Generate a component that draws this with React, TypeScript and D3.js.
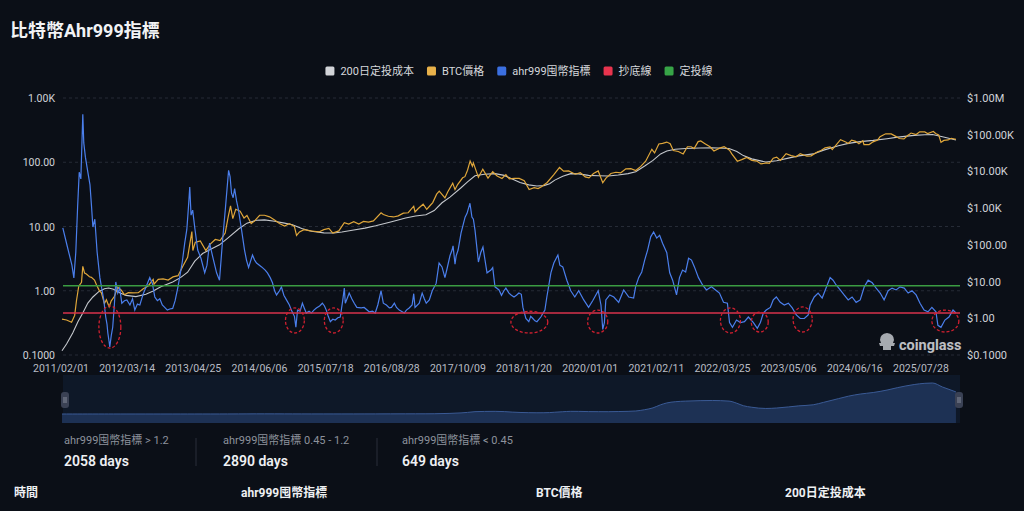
import React from "react";
import * as d3 from "d3";

// ---------- data ----------
const titleText = "比特幣Ahr999指標";
const dateStart = "2011-02-01";
const dateEnd = "2026-03-19";

const xTickLabels = [
  "2011/02/01", "2012/03/14", "2013/04/25", "2014/06/06", "2015/07/18",
  "2016/08/28", "2017/10/09", "2018/11/20", "2020/01/01", "2021/02/11",
  "2022/03/25", "2023/05/06", "2024/06/16", "2025/07/28",
];
const leftTicks = [0.1, 1, 10, 100, 1000];
const leftTickLabels = ["0.1000", "1.00", "10.00", "100.00", "1.00K"];
const rightTicks = [0.1, 1, 10, 100, 1000, 10000, 100000, 1000000];
const rightTickLabels = ["$0.1000", "$1.00", "$10.00", "$100.00", "$1.00K", "$10.00K", "$100.00K", "$1.00M"];

const legendNames = ["200日定投成本", "BTC價格", "ahr999囤幣指標", "抄底線", "定投線"];
const legendColors = ["#d2d4d8", "#e8b14a", "#3b6fe0", "#e8344e", "#37a447"];

const bottomLineValue = 0.45;
const dcaLineValue = 1.2;

const ahr999: [string, number][] = [
  ["2011-02-06", 9.5], ["2011-03-03", 5.2], ["2011-04-03", 2.5], ["2011-04-15", 1.58],
  ["2011-04-27", 4], ["2011-05-08", 20], ["2011-05-18", 70], ["2011-05-28", 55],
  ["2011-06-09", 560], ["2011-06-15", 200], ["2011-06-25", 120], ["2011-07-10", 70],
  ["2011-07-23", 45], ["2011-08-02", 20], ["2011-08-10", 9.8], ["2011-08-22", 13],
  ["2011-09-05", 4], ["2011-09-22", 1.6], ["2011-10-06", 1.0], ["2011-10-16", 0.72],
  ["2011-10-28", 0.39], ["2011-11-05", 0.3], ["2011-11-10", 0.22], ["2011-11-18", 0.16],
  ["2011-11-22", 0.133], ["2011-12-01", 0.2], ["2011-12-10", 0.27], ["2011-12-20", 0.6],
  ["2011-12-29", 1.37], ["2012-01-10", 0.92], ["2012-01-22", 1.1], ["2012-02-04", 0.64],
  ["2012-02-20", 0.7], ["2012-03-06", 0.72], ["2012-03-25", 0.6], ["2012-04-10", 0.75],
  ["2012-04-24", 0.5], ["2012-05-10", 0.62], ["2012-05-25", 0.6], ["2012-06-15", 0.9],
  ["2012-07-05", 1.2], ["2012-07-25", 1.6], ["2012-08-10", 1.3], ["2012-08-25", 0.8],
  ["2012-09-10", 0.7], ["2012-09-25", 0.75], ["2012-10-10", 0.6], ["2012-10-25", 0.55],
  ["2012-11-10", 0.5], ["2012-11-25", 0.52], ["2012-12-13", 0.53], ["2012-12-28", 0.7],
  ["2013-01-13", 1.1], ["2013-01-28", 1.8], ["2013-02-10", 2.8], ["2013-02-25", 5.5],
  ["2013-03-10", 9], ["2013-03-20", 20], ["2013-03-28", 41], ["2013-04-05", 15],
  ["2013-04-15", 18], ["2013-04-28", 9.5], ["2013-05-16", 4.3], ["2013-06-05", 3.2],
  ["2013-06-28", 1.9], ["2013-07-12", 2.5], ["2013-07-28", 5.5], ["2013-08-15", 3.5],
  ["2013-09-09", 1.9], ["2013-09-27", 1.46], ["2013-10-16", 6.1], ["2013-11-03", 20],
  ["2013-11-22", 75], ["2013-12-01", 60], ["2013-12-10", 33], ["2013-12-20", 28],
  ["2013-12-29", 39], ["2014-01-10", 25], ["2014-01-22", 18], ["2014-02-10", 8.8],
  ["2014-02-28", 4.3], ["2014-03-12", 3.0], ["2014-03-25", 2.3], ["2014-04-18", 3.6],
  ["2014-05-01", 3.0], ["2014-05-13", 2.7], ["2014-06-13", 2.35], ["2014-07-05", 2.1],
  ["2014-07-19", 1.9], ["2014-08-05", 1.6], ["2014-08-19", 1.33], ["2014-09-01", 1.0],
  ["2014-09-13", 0.86], ["2014-10-01", 1.0], ["2014-10-13", 1.15], ["2014-10-28", 0.85],
  ["2014-11-13", 0.72], ["2014-12-01", 0.6], ["2014-12-13", 0.5], ["2015-01-01", 0.4],
  ["2015-01-10", 0.27], ["2015-01-20", 0.5], ["2015-02-05", 0.48], ["2015-02-19", 0.64],
  ["2015-03-01", 0.55], ["2015-03-15", 0.45], ["2015-04-01", 0.48], ["2015-04-15", 0.45],
  ["2015-05-01", 0.5], ["2015-05-16", 0.54], ["2015-06-05", 0.58], ["2015-06-22", 0.64],
  ["2015-07-05", 0.58], ["2015-07-16", 0.5], ["2015-07-28", 0.4], ["2015-08-10", 0.33],
  ["2015-08-25", 0.36], ["2015-09-09", 0.35], ["2015-09-25", 0.38], ["2015-10-10", 0.39],
  ["2015-10-25", 0.7], ["2015-11-04", 1.1], ["2015-11-10", 0.64], ["2015-11-25", 0.8],
  ["2015-12-04", 0.92], ["2015-12-20", 0.75], ["2016-01-04", 0.64], ["2016-01-20", 0.55],
  ["2016-02-16", 0.54], ["2016-03-05", 0.55], ["2016-04-05", 0.47], ["2016-04-25", 0.48],
  ["2016-05-12", 0.45], ["2016-05-28", 0.6], ["2016-06-17", 1.0], ["2016-07-01", 0.64],
  ["2016-07-20", 0.6], ["2016-08-07", 0.54], ["2016-08-20", 0.55], ["2016-09-07", 0.64],
  ["2016-09-20", 0.55], ["2016-10-07", 0.5], ["2016-10-20", 0.48], ["2016-11-07", 0.45],
  ["2016-11-20", 0.5], ["2016-12-07", 0.54], ["2016-12-25", 0.6], ["2017-01-04", 0.9],
  ["2017-01-12", 0.55], ["2017-02-07", 0.64], ["2017-02-25", 0.92], ["2017-03-10", 0.75],
  ["2017-03-22", 0.64], ["2017-04-10", 0.72], ["2017-04-28", 1.0], ["2017-05-22", 1.3],
  ["2017-06-09", 2.7], ["2017-06-27", 2.35], ["2017-07-15", 1.6], ["2017-07-28", 2.2],
  ["2017-08-15", 3.5], ["2017-08-28", 4.3], ["2017-09-03", 5.0], ["2017-09-15", 2.6],
  ["2017-09-22", 3.5], ["2017-10-04", 4.3], ["2017-10-22", 7.9], ["2017-11-16", 14],
  ["2017-11-28", 16], ["2017-12-16", 23], ["2017-12-28", 14], ["2018-01-06", 13],
  ["2018-01-16", 8.8], ["2018-02-06", 2.8], ["2018-02-20", 3.9], ["2018-03-06", 4.8],
  ["2018-03-31", 1.9], ["2018-04-24", 2.1], ["2018-05-05", 2.3], ["2018-05-19", 1.15],
  ["2018-06-13", 1.03], ["2018-06-28", 0.85], ["2018-07-13", 1.0], ["2018-07-25", 1.1],
  ["2018-08-13", 0.92], ["2018-08-28", 0.85], ["2018-09-13", 0.8], ["2018-09-28", 0.85],
  ["2018-10-13", 0.92], ["2018-10-28", 0.88], ["2018-11-07", 0.55], ["2018-11-25", 0.37],
  ["2018-12-13", 0.33], ["2018-12-25", 0.4], ["2019-01-07", 0.37], ["2019-01-20", 0.34],
  ["2019-02-01", 0.33], ["2019-02-25", 0.39], ["2019-03-22", 0.5], ["2019-04-03", 0.8],
  ["2019-04-28", 1.9], ["2019-05-16", 2.7], ["2019-06-10", 3.6], ["2019-06-22", 2.5],
  ["2019-07-10", 2.35], ["2019-08-04", 1.46], ["2019-08-28", 1.0], ["2019-09-22", 0.8],
  ["2019-10-16", 1.0], ["2019-11-16", 0.72], ["2019-12-16", 0.55], ["2020-01-10", 0.7],
  ["2020-02-13", 1.0], ["2020-03-01", 0.6], ["2020-03-12", 0.25], ["2020-03-22", 0.32],
  ["2020-03-31", 0.72], ["2020-04-24", 0.86], ["2020-05-19", 0.8], ["2020-06-18", 0.66],
  ["2020-07-19", 1.03], ["2020-08-19", 0.8], ["2020-09-18", 0.77], ["2020-09-30", 1.15],
  ["2020-10-19", 1.6], ["2020-11-07", 1.96], ["2020-11-25", 3.0], ["2020-12-13", 4.3],
  ["2021-01-01", 6.9], ["2021-01-19", 8.2], ["2021-02-07", 6.6], ["2021-02-25", 7.3],
  ["2021-03-15", 5.5], ["2021-04-10", 3.9], ["2021-04-28", 1.9], ["2021-05-16", 1.46],
  ["2021-06-09", 0.86], ["2021-06-27", 1.6], ["2021-07-16", 2.1], ["2021-08-04", 1.96],
  ["2021-08-22", 3.2], ["2021-09-09", 3.0], ["2021-09-27", 2.35], ["2021-10-22", 1.6],
  ["2021-11-16", 1.23], ["2021-12-10", 1.03], ["2022-01-10", 1.15], ["2022-02-04", 1.03],
  ["2022-02-28", 0.92], ["2022-03-25", 0.66], ["2022-04-18", 0.64], ["2022-05-01", 0.32],
  ["2022-05-19", 0.27], ["2022-06-13", 0.35], ["2022-07-07", 0.32], ["2022-08-01", 0.33],
  ["2022-08-25", 0.39], ["2022-09-25", 0.32], ["2022-10-19", 0.26], ["2022-11-07", 0.32],
  ["2022-11-25", 0.45], ["2022-12-13", 0.5], ["2023-01-07", 0.55], ["2023-01-25", 0.72],
  ["2023-02-13", 0.8], ["2023-03-09", 0.66], ["2023-04-03", 0.6], ["2023-04-28", 0.64],
  ["2023-05-22", 0.54], ["2023-06-16", 0.42], ["2023-07-10", 0.37], ["2023-08-04", 0.37],
  ["2023-08-28", 0.42], ["2023-09-09", 0.6], ["2023-10-04", 0.8], ["2023-10-28", 0.92],
  ["2023-11-22", 0.77], ["2023-12-16", 1.1], ["2024-01-10", 1.6], ["2024-01-28", 1.46],
  ["2024-02-16", 1.23], ["2024-03-12", 1.03], ["2024-04-05", 0.86], ["2024-04-30", 0.72],
  ["2024-05-24", 0.8], ["2024-06-18", 0.66], ["2024-07-13", 0.72], ["2024-08-07", 1.15],
  ["2024-08-31", 1.46], ["2024-09-25", 1.33], ["2024-10-19", 1.1], ["2024-11-13", 0.92],
  ["2024-12-07", 0.72], ["2025-01-01", 1.0], ["2025-01-25", 1.1], ["2025-02-19", 1.03],
  ["2025-03-15", 1.15], ["2025-04-10", 1.1], ["2025-05-04", 0.92], ["2025-05-28", 1.0],
  ["2025-06-22", 0.86], ["2025-07-16", 0.64], ["2025-08-10", 0.5], ["2025-09-03", 0.47],
  ["2025-09-27", 0.55], ["2025-10-22", 0.47], ["2025-11-03", 0.29], ["2025-11-22", 0.27],
  ["2025-12-16", 0.35], ["2026-01-10", 0.39], ["2026-02-04", 0.5], ["2026-02-22", 0.45],
];

const btcPrice: [string, number][] = [
  ["2011-02-01", 0.95], ["2011-03-01", 0.9], ["2011-04-01", 0.78], ["2011-04-20", 1.2],
  ["2011-05-01", 3.0], ["2011-05-15", 7.5], ["2011-06-01", 9.5], ["2011-06-09", 26],
  ["2011-06-20", 17], ["2011-07-01", 16], ["2011-07-20", 13.5], ["2011-08-01", 13],
  ["2011-08-20", 11], ["2011-09-01", 8.2], ["2011-09-20", 5.5], ["2011-10-01", 5.0],
  ["2011-10-20", 2.5], ["2011-11-01", 3.2], ["2011-11-18", 2.05], ["2011-12-01", 3.0],
  ["2011-12-20", 3.9], ["2012-01-10", 7.0], ["2012-02-01", 5.8], ["2012-02-20", 4.4],
  ["2012-03-15", 5.0], ["2012-04-15", 4.9], ["2012-05-15", 5.0], ["2012-06-15", 6.4],
  ["2012-07-15", 7.6], ["2012-08-15", 11.5], ["2012-08-20", 8.5], ["2012-09-15", 11.5],
  ["2012-10-15", 11.8], ["2012-11-15", 11.0], ["2012-12-15", 13.4], ["2013-01-15", 14.5],
  ["2013-02-15", 27], ["2013-03-15", 46], ["2013-04-10", 230], ["2013-04-16", 70],
  ["2013-05-01", 117], ["2013-06-01", 128], ["2013-07-05", 70], ["2013-08-01", 105],
  ["2013-09-01", 140], ["2013-10-01", 130], ["2013-11-01", 210], ["2013-11-20", 600],
  ["2013-12-04", 1150], ["2013-12-18", 520], ["2014-01-05", 930], ["2014-02-01", 820],
  ["2014-02-25", 540], ["2014-03-15", 630], ["2014-04-10", 380], ["2014-05-01", 450],
  ["2014-06-01", 640], ["2014-07-01", 640], ["2014-08-01", 580], ["2014-09-01", 475],
  ["2014-10-01", 380], ["2014-11-01", 325], ["2014-12-01", 380], ["2015-01-01", 315],
  ["2015-01-14", 180], ["2015-02-01", 225], ["2015-03-01", 260], ["2015-04-01", 245],
  ["2015-05-01", 235], ["2015-06-01", 225], ["2015-07-01", 260], ["2015-08-01", 280],
  ["2015-08-25", 210], ["2015-10-01", 240], ["2015-11-04", 400], ["2015-12-01", 370],
  ["2016-01-01", 430], ["2016-02-01", 370], ["2016-03-01", 435], ["2016-04-01", 415],
  ["2016-05-01", 450], ["2016-06-17", 750], ["2016-07-01", 670], ["2016-08-01", 600],
  ["2016-09-01", 575], ["2016-10-01", 615], ["2016-11-01", 730], ["2016-12-01", 750],
  ["2017-01-04", 1130], ["2017-01-12", 790], ["2017-02-01", 980], ["2017-03-03", 1280],
  ["2017-03-25", 930], ["2017-04-15", 1180], ["2017-05-01", 1420], ["2017-05-25", 2400],
  ["2017-06-10", 2900], ["2017-07-15", 1900], ["2017-08-01", 2750], ["2017-09-01", 4800],
  ["2017-09-15", 3200], ["2017-10-01", 4400], ["2017-11-01", 6700], ["2017-11-15", 7200],
  ["2017-12-01", 10800], ["2017-12-17", 19300], ["2017-12-31", 13800], ["2018-01-06", 17100],
  ["2018-02-06", 6900], ["2018-03-05", 11500], ["2018-04-06", 6600], ["2018-05-05", 9800],
  ["2018-06-01", 7500], ["2018-07-01", 6400], ["2018-07-25", 8200], ["2018-08-15", 6300],
  ["2018-09-15", 6500], ["2018-10-15", 6450], ["2018-11-15", 5600], ["2018-12-15", 3200],
  ["2019-01-15", 3600], ["2019-02-08", 3400], ["2019-03-01", 3850], ["2019-04-05", 5000],
  ["2019-05-15", 8000], ["2019-06-20", 12800], ["2019-07-15", 10200], ["2019-08-15", 10300],
  ["2019-09-25", 8400], ["2019-10-26", 9300], ["2019-11-25", 7100], ["2019-12-18", 6700],
  ["2020-01-15", 8800], ["2020-02-13", 10300], ["2020-03-12", 4900], ["2020-04-01", 6600],
  ["2020-05-01", 8800], ["2020-06-01", 9500], ["2020-07-01", 9200], ["2020-08-01", 11800],
  ["2020-09-01", 11900], ["2020-10-01", 10600], ["2020-11-01", 13700], ["2020-12-01", 19000],
  ["2021-01-08", 40000], ["2021-01-25", 32000], ["2021-02-20", 56000], ["2021-03-15", 58000],
  ["2021-04-10", 63000], ["2021-05-01", 57000], ["2021-05-20", 37000], ["2021-06-20", 35000],
  ["2021-07-20", 30000], ["2021-08-15", 47000], ["2021-09-07", 47000], ["2021-09-25", 42000],
  ["2021-10-20", 65000], ["2021-11-05", 67500], ["2021-12-01", 57000], ["2022-01-01", 47000],
  ["2022-01-25", 36000], ["2022-03-01", 43000], ["2022-03-29", 47500], ["2022-05-01", 38000],
  ["2022-05-15", 30000], ["2022-06-18", 19000], ["2022-07-15", 21000], ["2022-08-15", 24000],
  ["2022-09-15", 20000], ["2022-10-15", 19100], ["2022-11-10", 16000], ["2022-12-15", 17000],
  ["2023-01-01", 16600], ["2023-01-25", 23000], ["2023-02-15", 24500], ["2023-03-10", 20000],
  ["2023-04-14", 30500], ["2023-05-15", 27000], ["2023-06-15", 25000], ["2023-07-10", 30500],
  ["2023-08-20", 26000], ["2023-09-15", 26600], ["2023-10-25", 34500], ["2023-11-15", 37000],
  ["2023-12-10", 44000], ["2024-01-10", 46500], ["2024-01-23", 39500], ["2024-02-15", 52000],
  ["2024-03-14", 73000], ["2024-04-15", 63500], ["2024-05-01", 58000], ["2024-05-21", 71000],
  ["2024-06-15", 66000], ["2024-07-05", 56500], ["2024-07-29", 68000], ["2024-08-05", 54000],
  ["2024-09-06", 54000], ["2024-09-30", 64000], ["2024-10-29", 72000], ["2024-11-12", 88000],
  ["2024-12-05", 100000], ["2024-12-17", 106000], ["2025-01-20", 105000], ["2025-02-25", 86000],
  ["2025-03-10", 79000], ["2025-04-08", 77000], ["2025-05-01", 95000], ["2025-05-22", 111000],
  ["2025-06-22", 101000], ["2025-07-14", 120000], ["2025-08-14", 119000], ["2025-09-01", 108000],
  ["2025-10-06", 122000], ["2025-10-20", 108000], ["2025-11-08", 98000], ["2025-11-22", 62000],
  ["2025-12-10", 70000], ["2026-01-05", 72000], ["2026-01-25", 80000], ["2026-02-22", 75000],
];

const dcaCost: [string, number][] = [
  ["2011-02-01", 0.13], ["2011-03-01", 0.2], ["2011-04-08", 0.4], ["2011-05-10", 0.8],
  ["2011-06-09", 1.4], ["2011-07-10", 2.6], ["2011-08-10", 3.8], ["2011-09-15", 5.3],
  ["2011-10-20", 6.4], ["2011-11-15", 6.7], ["2011-12-15", 6.2], ["2012-01-25", 4.9],
  ["2012-03-01", 4.2], ["2012-05-01", 3.9], ["2012-07-01", 4.5], ["2012-08-15", 5.5],
  ["2012-10-01", 7.2], ["2012-12-13", 9.8], ["2013-02-01", 13], ["2013-03-15", 18],
  ["2013-04-28", 36], ["2013-06-15", 58], ["2013-08-01", 75], ["2013-09-27", 100],
  ["2013-11-15", 150], ["2014-01-22", 270], ["2014-03-15", 390], ["2014-05-13", 470],
  ["2014-07-01", 480], ["2014-09-01", 440], ["2014-11-01", 390], ["2014-12-20", 355],
  ["2015-02-15", 280], ["2015-04-15", 235], ["2015-07-01", 212], ["2015-09-01", 210],
  ["2015-10-20", 225], ["2016-01-01", 255], ["2016-03-10", 285], ["2016-05-15", 330],
  ["2016-08-15", 420], ["2016-11-15", 540], ["2017-01-15", 610], ["2017-03-20", 660],
  ["2017-05-10", 860], ["2017-06-27", 1400], ["2017-08-15", 2000], ["2017-10-22", 3600],
  ["2017-12-01", 5200], ["2018-01-16", 7600], ["2018-03-15", 8400], ["2018-05-20", 8700],
  ["2018-07-15", 7800], ["2018-09-02", 6200], ["2018-10-20", 5000], ["2018-12-13", 4300],
  ["2019-02-01", 4000], ["2019-03-16", 4100], ["2019-04-20", 4600], ["2019-05-22", 5800],
  ["2019-07-10", 7400], ["2019-08-28", 8700], ["2019-10-15", 8600], ["2019-12-16", 7800],
  ["2020-02-16", 7600], ["2020-04-15", 7500], ["2020-06-15", 8000], ["2020-08-15", 8700],
  ["2020-10-01", 9800], ["2020-11-25", 14000], ["2021-01-15", 20000], ["2021-03-03", 30000],
  ["2021-04-10", 36000], ["2021-06-01", 40000], ["2021-08-04", 42000], ["2021-11-01", 43500],
  ["2022-01-15", 44000], ["2022-04-28", 42000], ["2022-06-15", 35000], ["2022-07-25", 27000],
  ["2022-09-15", 22000], ["2022-12-10", 18000], ["2023-02-15", 19500], ["2023-04-28", 23000],
  ["2023-07-01", 26500], ["2023-09-28", 30000], ["2023-12-01", 38000], ["2024-03-01", 50000],
  ["2024-05-01", 58000], ["2024-07-13", 65000], ["2024-10-01", 70000], ["2024-12-25", 78000],
  ["2025-03-01", 86000], ["2025-06-10", 96000], ["2025-08-15", 100000], ["2025-10-01", 101000],
  ["2025-12-01", 88000], ["2026-02-22", 72000],
];

// bottom-zone annotations: [from, to, low value, high value]
const bottomZones: [string, string, number, number][] = [
  ["2011-09-16", "2012-01-29", 0.128, 0.58],
  ["2014-11-07", "2015-03-03", 0.22, 0.54],
  ["2015-07-04", "2015-10-28", 0.22, 0.54],
  ["2018-08-25", "2019-04-09", 0.22, 0.48],
  ["2019-12-10", "2020-04-12", 0.22, 0.5],
  ["2022-03-06", "2022-07-07", 0.22, 0.54],
  ["2022-09-12", "2022-12-25", 0.228, 0.466],
  ["2023-05-27", "2023-09-22", 0.228, 0.56],
  ["2025-09-27", "2026-03-12", 0.228, 0.5],
];

const statLabels = ["ahr999囤幣指標 > 1.2", "ahr999囤幣指標 0.45 - 1.2", "ahr999囤幣指標 < 0.45"];
const statDays = [2058, 2890, 649];
const tableHeaders = ["時間", "ahr999囤幣指標", "BTC價格", "200日定投成本"];

// ---------- layout ----------
const W = 1024;
const H = 511;
const PL = 62, PR = 960, PT = 98, PB = 355;
const SL = 63, SR = 960, ST = 375, SB = 423;
const FONT = "Roboto, 'Noto Sans CJK TC', 'Noto Sans', sans-serif";
const BG = "#0b0f17";

const parseDate = d3.timeParse("%Y-%m-%d");
const parseTick = d3.timeParse("%Y/%m/%d");

let _ctx: CanvasRenderingContext2D | null = null;
function textWidth(t: string, font: string) {
  if (!_ctx) _ctx = document.createElement("canvas").getContext("2d");
  if (!_ctx) return t.length * 7;
  _ctx.font = font;
  return _ctx.measureText(t).width;
}

export default function App() {
  const x = d3.scaleTime().domain([parseDate(dateStart)!, parseDate(dateEnd)!]).range([PL, PR]);
  const yL = d3.scaleLog().domain([0.1, 1000]).range([PB, PT]);
  const yR = d3.scaleLog().domain([0.1, 1000000]).range([PB, PT]);

  const ahrLine = d3.line<[string, number]>().x((d) => x(parseDate(d[0])!)).y((d) => yL(d[1]));
  const rLine = d3.line<[string, number]>().x((d) => x(parseDate(d[0])!)).y((d) => yR(d[1]));

  // slider shadow (200-day cost, linear)
  const maxCost = d3.max(dcaCost, (d) => d[1]) || 1;
  const ys = d3.scaleLinear().domain([0, maxCost]).range([SB - 9, ST + 8]);
  const sArea = d3.area<[string, number]>().curve(d3.curveMonotoneX).x((d) => x(parseDate(d[0])!)).y0(SB).y1((d) => ys(d[1]));
  const sLine = d3.line<[string, number]>().curve(d3.curveMonotoneX).x((d) => x(parseDate(d[0])!)).y((d) => ys(d[1]));

  // legend layout
  const legendFont = `11px ${FONT}`;
  const sq = 9, gapIn = 6, gapOut = 13;
  const widths = legendNames.map((n) => textWidth(n, legendFont));
  const total = d3.sum(widths) + legendNames.length * (sq + gapIn) + (legendNames.length - 1) * gapOut;
  let lx = 519 - total / 2;
  const legendPos = widths.map((w) => {
    const p = lx;
    lx += sq + gapIn + w + gapOut;
    return p;
  });

  const statX = [64, 223, 402];
  const sepX = [196, 377];
  const headerX = [14, 241, 536, 785];

  return (
    <svg width={W} height={H} style={{ position: "absolute", left: 0, top: 0, display: "block" }} fontFamily={FONT}>
      <rect x={0} y={0} width={W} height={H} fill={BG} />
      <text x={10} y={37} fill="#f2f3f5" fontSize={18} fontWeight={700}>{titleText}</text>

      {/* legend */}
      {legendNames.map((n, i) => (
        <g key={n}>
          <rect x={legendPos[i]} y={66.5} width={sq} height={sq} rx={1.5} fill={legendColors[i]} />
          <text x={legendPos[i] + sq + gapIn} y={75} fill="#d6d8dc" fontSize={11}>{n}</text>
        </g>
      ))}

      {/* grid */}
      {leftTicks.map((t) => (
        <line key={t} x1={PL + 1} x2={PR} y1={yL(t)} y2={yL(t)} stroke="#262b36" strokeDasharray="3,3" strokeWidth={1} />
      ))}
      {leftTicks.map((t, i) => (
        <text key={"l" + t} x={55} y={yL(t) + 4} textAnchor="end" fill="#d0d3d9" fontSize={10.5}>{leftTickLabels[i]}</text>
      ))}
      {rightTicks.map((t, i) => (
        <text key={"r" + t} x={967} y={yR(t) + 4} textAnchor="start" fill="#d0d3d9" fontSize={11}>{rightTickLabels[i]}</text>
      ))}
      {xTickLabels.map((l) => (
        <text key={l} x={x(parseTick(l)!) - 1} y={372} textAnchor="middle" fill="#b9bdc5" fontSize={10.5}>{l}</text>
      ))}

      {/* series */}
      <path d={rLine(dcaCost) || ""} fill="none" stroke="#c4c7cc" strokeWidth={1.1} />
      <path d={rLine(btcPrice) || ""} fill="none" stroke="#dfa63a" strokeWidth={1.2} />
      <path d={ahrLine(ahr999) || ""} fill="none" stroke="#4b7fec" strokeWidth={1.2} />
      <line x1={PL + 1} x2={PR} y1={yL(bottomLineValue)} y2={yL(bottomLineValue)} stroke="#d8334c" strokeWidth={1.5} />
      <line x1={PL + 1} x2={PR} y1={yL(dcaLineValue)} y2={yL(dcaLineValue)} stroke="#3b9c42" strokeWidth={1.5} />

      {/* bottom zones */}
      {bottomZones.map((z, i) => {
        const x1 = x(parseDate(z[0])!), x2 = x(parseDate(z[1])!);
        const y1 = yL(z[3]), y2 = yL(z[2]);
        return (
          <ellipse key={i} cx={(x1 + x2) / 2} cy={(y1 + y2) / 2} rx={(x2 - x1) / 2} ry={(y2 - y1) / 2}
            fill="none" stroke="#d02030" strokeWidth={1.3} strokeDasharray="3,2" />
        );
      })}

      {/* watermark */}
      <g opacity={0.82}>
        <path d="M880,340 q0,-6 7,-7 q7,1 7,7 l-1,3 l2,0 l-1,3 l-3,0 l0,4 l-8,0 l0,-4 l-3,0 l-1,-3 l2,0 z" fill="#c9ccd2" />
        <text x={899} y={350} fill="#e4e6ea" fontSize={14.5} fontWeight={700}>coinglass</text>
      </g>

      {/* slider */}
      <rect x={SL} y={ST} width={SR - SL} height={SB - ST} fill="#0e1828" />
      <path d={sArea(dcaCost) || ""} fill="#1f3459" opacity={0.9} />
      <path d={sLine(dcaCost) || ""} fill="none" stroke="#3a5a95" strokeWidth={1} />
      {[SL - 2, SR - 5].map((hx, i) => (
        <g key={i}>
          <rect x={hx} y={392} width={8} height={16} rx={3} fill="#3a4154" />
          <line x1={hx + 3} x2={hx + 3} y1={397} y2={403} stroke="#9aa0ad" strokeWidth={0.8} />
          <line x1={hx + 5} x2={hx + 5} y1={397} y2={403} stroke="#9aa0ad" strokeWidth={0.8} />
        </g>
      ))}

      {/* stats */}
      {statLabels.map((l, i) => (
        <g key={l}>
          <text x={statX[i]} y={444} fill="#8d929c" fontSize={11}>{l}</text>
          <text x={statX[i]} y={466} fill="#eef0f3" fontSize={14} fontWeight={600}>{`${statDays[i]} days`}</text>
        </g>
      ))}
      {sepX.map((sx) => (
        <line key={sx} x1={sx} x2={sx} y1={438} y2={466} stroke="#2a2f3a" strokeWidth={1} />
      ))}

      {/* table header */}
      {tableHeaders.map((h, i) => (
        <text key={h} x={headerX[i]} y={497} fill="#eef0f3" fontSize={12} fontWeight={700}>{h}</text>
      ))}
    </svg>
  );
}
